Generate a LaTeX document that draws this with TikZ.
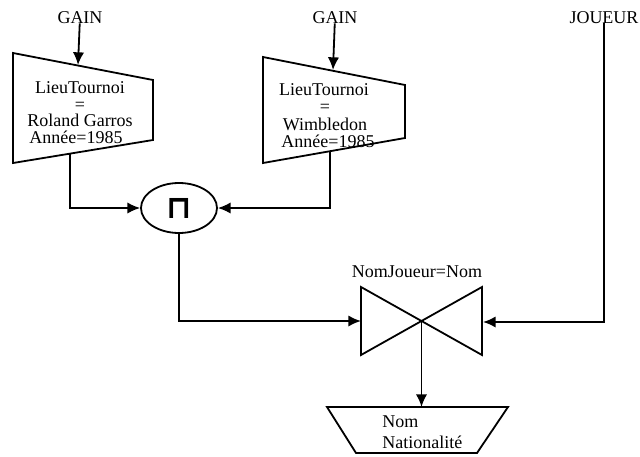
\documentclass[tikz,border=0pt]{standalone}
\usepackage{fontspec}
\setmainfont{Liberation Serif}
\newfontfamily\symfont{DejaVu Sans}
\usetikzlibrary{arrows.meta, shapes.geometric, positioning}
\tikzstyle{flow_arrow}=[line width=1.35pt, -{Latex[length=9.5pt,width=8.5pt]}]

\begin{document}
\begin{tikzpicture}[x=0.75pt, y=-0.75pt]
			\tikzset{txt/.style = {font=\fontsize{13.5}{15}\selectfont, inner sep=0pt}}
			\tikzset{box/.style = {line width=1.35pt}}
			\tikzset{flow/.style = {flow_arrow}}
			\useasboundingbox (0,0) rectangle (640,457);

			% relations
			\node[txt, anchor=base] (gainA) at (80,23) {GAIN};
			\node[txt, anchor=base] (gainB) at (335,23) {GAIN};
			\node[txt, anchor=base] (joueur) at (604,23) {JOUEUR};

			% selection 1
			\draw[box] (13,53) -- (153,80) -- (153,140) -- (13,163) -- cycle;
			\coordinate (selA_in) at (78,65);
			\coordinate (selA_out) at (70,153);
			\node[txt, anchor=base] (selA1) at (80,93) {LieuTournoi};
			\node[txt, anchor=base] (selA2) at (80,110) {=};
			\node[txt, anchor=base] (selA3) at (80,126) {Roland Garros};
			\node[txt, anchor=base] (selA4) at (76,143) {Année=1985};

			% selection 2
			\draw[box] (263,57) -- (405,85) -- (405,138) -- (263,163) -- cycle;
			\coordinate (selB_in) at (333,70);
			\coordinate (selB_out) at (330,151);
			\node[txt, anchor=base] (selB1) at (324,95) {LieuTournoi};
			\node[txt, anchor=base] (selB2) at (325,112) {=};
			\node[txt, anchor=base] (selB3) at (325,130) {Wimbledon};
			\node[txt, anchor=base] (selB4) at (328,147) {Année=1985};

			% intersection
			\node[draw, ellipse, box, minimum width=57pt, minimum height=37.5pt, inner sep=0pt] (inter) at (179,208) {\fontsize{24}{24}\symfont\bfseries ⊓};

			% join
			\draw[box] (361,287) -- (482,355) -- (482,287) -- (361,355) -- cycle;
			\coordinate (join) at (421.5,321);
			\coordinate (join_w) at (361,321);
			\coordinate (join_e) at (483,322);
			\node[txt, anchor=base] (joincond) at (417,277) {NomJoueur=Nom};

			% projection
			\draw[box] (327,407) -- (508,407) -- (477,453) -- (356,453) -- cycle;
			\coordinate (proj_in) at (421.5,407);
			\node[txt, anchor=base west] (projA) at (382,427) {Nom};
			\node[txt, anchor=base west] (projB) at (382,448) {Nationalité};

			%edges
			\draw[flow] (gainA) -- (selA_in);
			\draw[flow] (gainB) -- (selB_in);
			\draw[flow] (selA_out) |- (inter.west);
			\draw[flow] (selB_out) |- (inter.east);
			\draw[flow] (inter.south) |- (join_w);
			\draw[flow] (joueur.south) |- (join_e);
			\draw[flow] (join) -- (proj_in);
\end{tikzpicture}
\end{document}
